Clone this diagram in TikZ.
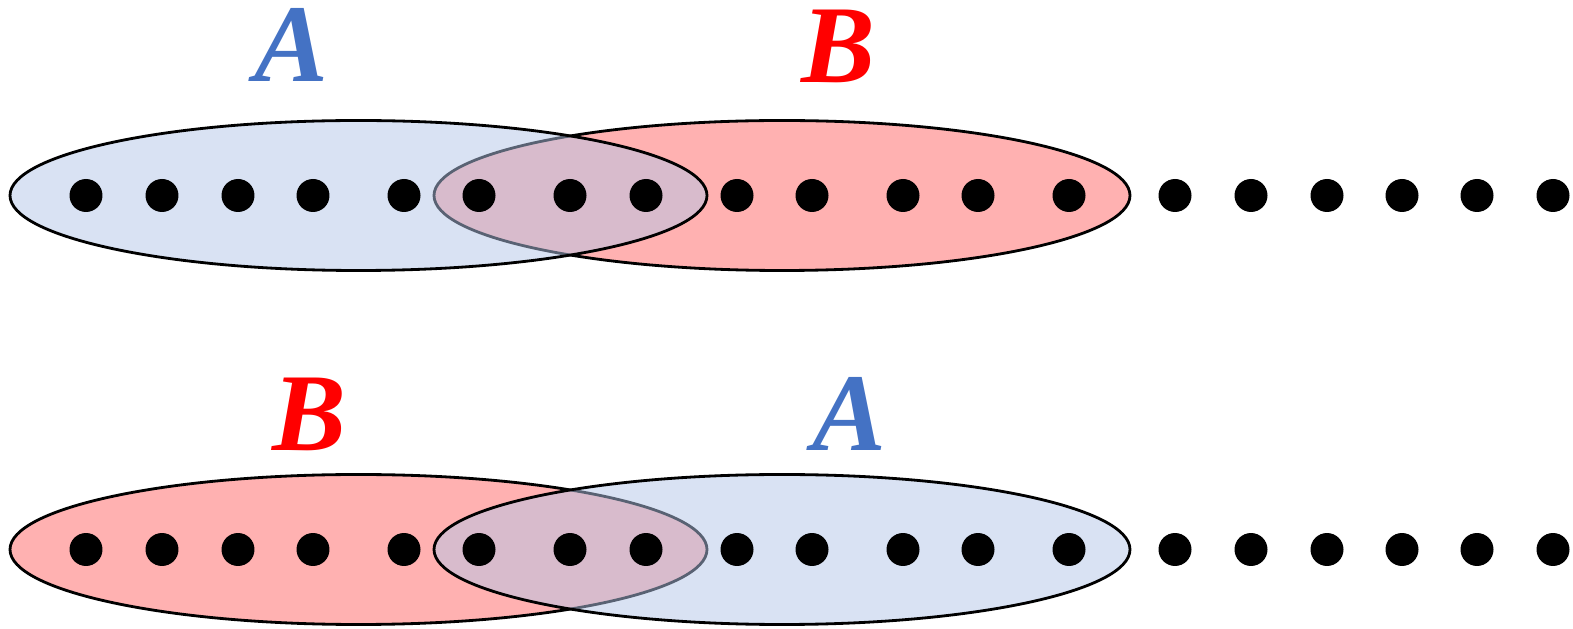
\documentclass[tikz,border=0pt]{standalone}
\usepackage{fontspec}
\setmainfont{Liberation Serif}
\usepackage{tikz}
\definecolor{SetBlue}{HTML}{B3C5E7}
\definecolor{SetRed}{HTML}{FFB1B1}
\definecolor{LabelBlue}{HTML}{4472C4}
\definecolor{LabelRed}{HTML}{FF0000}

\begin{document}
\begin{tikzpicture}[
  x=0.02cm, y=0.02cm,
  % set region (blue one is see-through, so the overlap turns purple)
  setA/.style={draw=black, line width=1.6pt, fill=SetBlue, fill opacity=0.5},
  setB/.style={draw=black, line width=1.6pt, fill=SetRed},
  % element dot
  elem/.style={circle, fill=black, inner sep=0pt, minimum size=0.66cm},
  % set name
  lbl/.style={font=\fontsize{63}{63}\selectfont\bfseries\itshape, inner sep=0pt},
]
\useasboundingbox (0,0) rectangle (1573,629);

% ── Sizes ────────────────────────────────────────────────────────────────────
\def\px{0.02cm}
\def\yT{433.5}   % top row centre y
\def\yB{79.5}    % bottom row centre y
\def\xL{358.5}   % left ellipse centre x
\def\xR{782}     % right ellipse centre x

%% ── Top row: A left, B right ─────────────────────────────────────────────
\draw[setB] (\xR,\yT) ellipse[x radius=348*\px, y radius=75*\px];
\draw[setA] (\xL,\yT) ellipse[x radius=348.5*\px, y radius=75*\px];

%% ── Bottom row: B left, A right ──────────────────────────────────────────
\draw[setB] (\xL,\yB) ellipse[x radius=348.5*\px, y radius=75*\px];
\draw[setA] (\xR,\yB) ellipse[x radius=348*\px, y radius=75*\px];

%% ── Elements ─────────────────────────────────────────────────────────────
\foreach \x [count=\i] in {86,162,238,313,404,479,570,646,737,812,
                          903,978,1069,1175,1251,1327,1402,1477,1553}{
  \node[elem] (t\i) at (\x,\yT) {};
  \node[elem] (b\i) at (\x,\yB) {};
}

%% ── Set names ────────────────────────────────────────────────────────────
\node[lbl, text=LabelBlue] (topA) at (291,584) {A};
\node[lbl, text=LabelRed]  (topB) at (838,583) {B};
\node[lbl, text=LabelRed]  (botB) at (309,215) {B};
\node[lbl, text=LabelBlue] (botA) at (849,215) {A};

\end{tikzpicture}
\end{document}
